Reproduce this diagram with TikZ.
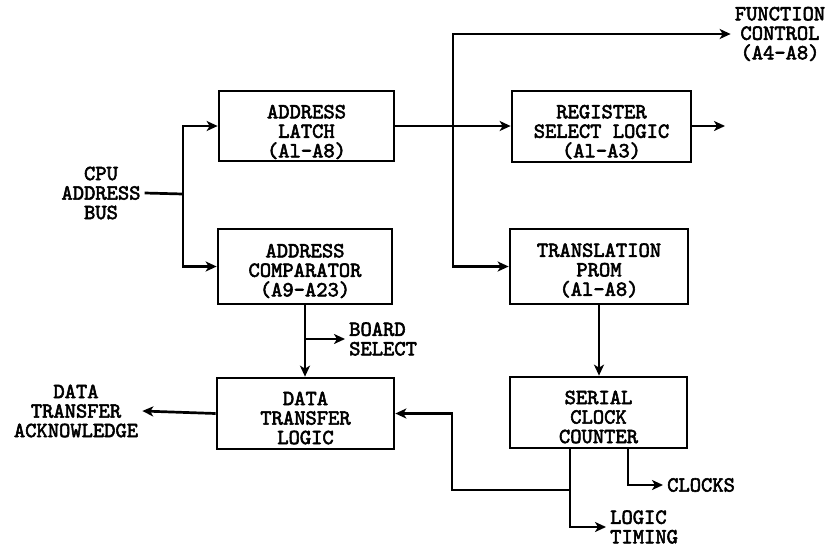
\documentclass[tikz,border=0pt]{standalone}
\usepackage{fontspec}
\newfontfamily\typew{lmmono10-regular.otf}[FakeBold=2.6]
\usetikzlibrary{arrows.meta}
\tikzset{
  blk/.style={draw, line width=2.7pt, inner sep=0pt},
  txt/.style={align=center, inner sep=0pt},
  lbl/.style={inner sep=4pt},
  wire/.style={line width=2.7pt},
  arw/.style={wire, -{Stealth[length=11pt,width=10pt,inset=3pt]}},
}
\begin{document}
\begin{tikzpicture}[x=1pt, y=-1pt,
  font=\typew\fontsize{21.5}{19.5}\selectfont]
\useasboundingbox (0,0) rectangle (831,547);

% blocks (frames) and their captions
\node[blk, minimum width=175pt, minimum height=70pt] (latch) at (306.5,126) {};
\node[txt] (latchT) at ([yshift=-6pt]latch.center) {ADDRESS\\LATCH\\(Al-A8)};
\node[blk, minimum width=174pt, minimum height=75pt] (comp) at (305,266.5) {};
\node[txt] (compT) at ([yshift=-4.5pt]comp.center) {ADDRESS\\COMPARATOR\\(A9-A23)};
\node[blk, minimum width=177pt, minimum height=71pt] (dtl) at (305.5,413.5) {};
\node[txt] (dtlT) at ([yshift=-4.5pt]dtl.center) {DATA\\TRANSFER\\LOGIC};
\node[blk, minimum width=179pt, minimum height=71pt] (reg) at (601.5,126.5) {};
\node[txt] (regT) at ([yshift=-5.5pt]reg.center) {REGISTER\\SELECT LOGIC\\(Al-A3)};
\node[blk, minimum width=178pt, minimum height=75pt] (prom) at (599,266.5) {};
\node[txt] (promT) at ([yshift=-4pt]prom.center) {TRANSLATION\\PROM\\(Al-A8)};
\node[blk, minimum width=177pt, minimum height=71pt] (scc) at (598.5,412.5) {};
\node[txt] (sccT) at ([yshift=-4.5pt]scc.center) {SERIAL\\CLOCK\\COUNTER};

% outside labels
\node[lbl, align=center] (cpu) at (101,193) {CPU\\ADDRESS\\BUS};
\node[lbl, align=center] (fcl) at (780,34) {FUNCTION\\CONTROL\\(A4-A8)};
\node[lbl, align=left, anchor=west] (bsl) at (345,339) {BOARD\\SELECT};
\node[lbl, align=center] (dta) at (76,411) {DATA\\TRANSFER\\ACKNOWLEDGE};
\node[lbl, align=left, anchor=west] (clk) at (663,485) {CLOCKS};
\node[lbl, align=left, anchor=west] (ltl) at (606,527) {LOGIC\\TIMING};

% junction points
\coordinate (bus) at (183,194);
\coordinate (tap) at (453,126);
\coordinate (bs) at (305,339);
\coordinate (ro) at (725,126);
\coordinate (j) at (570,490);
\coordinate (k) at (452,490);
\coordinate (c) at (628,485);

% address bus fan-out
\draw[wire] (cpu.east) -- (bus);
\draw[arw] (bus) |- (latch.west);
\draw[arw] (bus) |- (comp.west);

% latch outputs
\draw[arw] (latch.east) -- (latch.east -| reg.west);
\draw[arw] (tap) |- (fcl.west);
\draw[arw] (tap) |- (prom.west);
\draw[arw] (reg.east |- ro) -- (ro);

% comparator path
\draw[arw] (comp.south) -- (comp.south |- dtl.north);
\draw[arw] (bs) -- (bsl.west);
\draw[arw] (dtl.west) -- (dta.east);

% clock counter
\draw[arw] (prom.south) -- (prom.south |- scc.north);
\draw[wire] (j |- scc.south) -- (j);
\draw[arw] (j) -- (k) |- (dtl.east);
\draw[arw] (j) |- (ltl.west);
\draw[arw] (c |- scc.south) -- (c) -- (clk.west);
\end{tikzpicture}
\end{document}
